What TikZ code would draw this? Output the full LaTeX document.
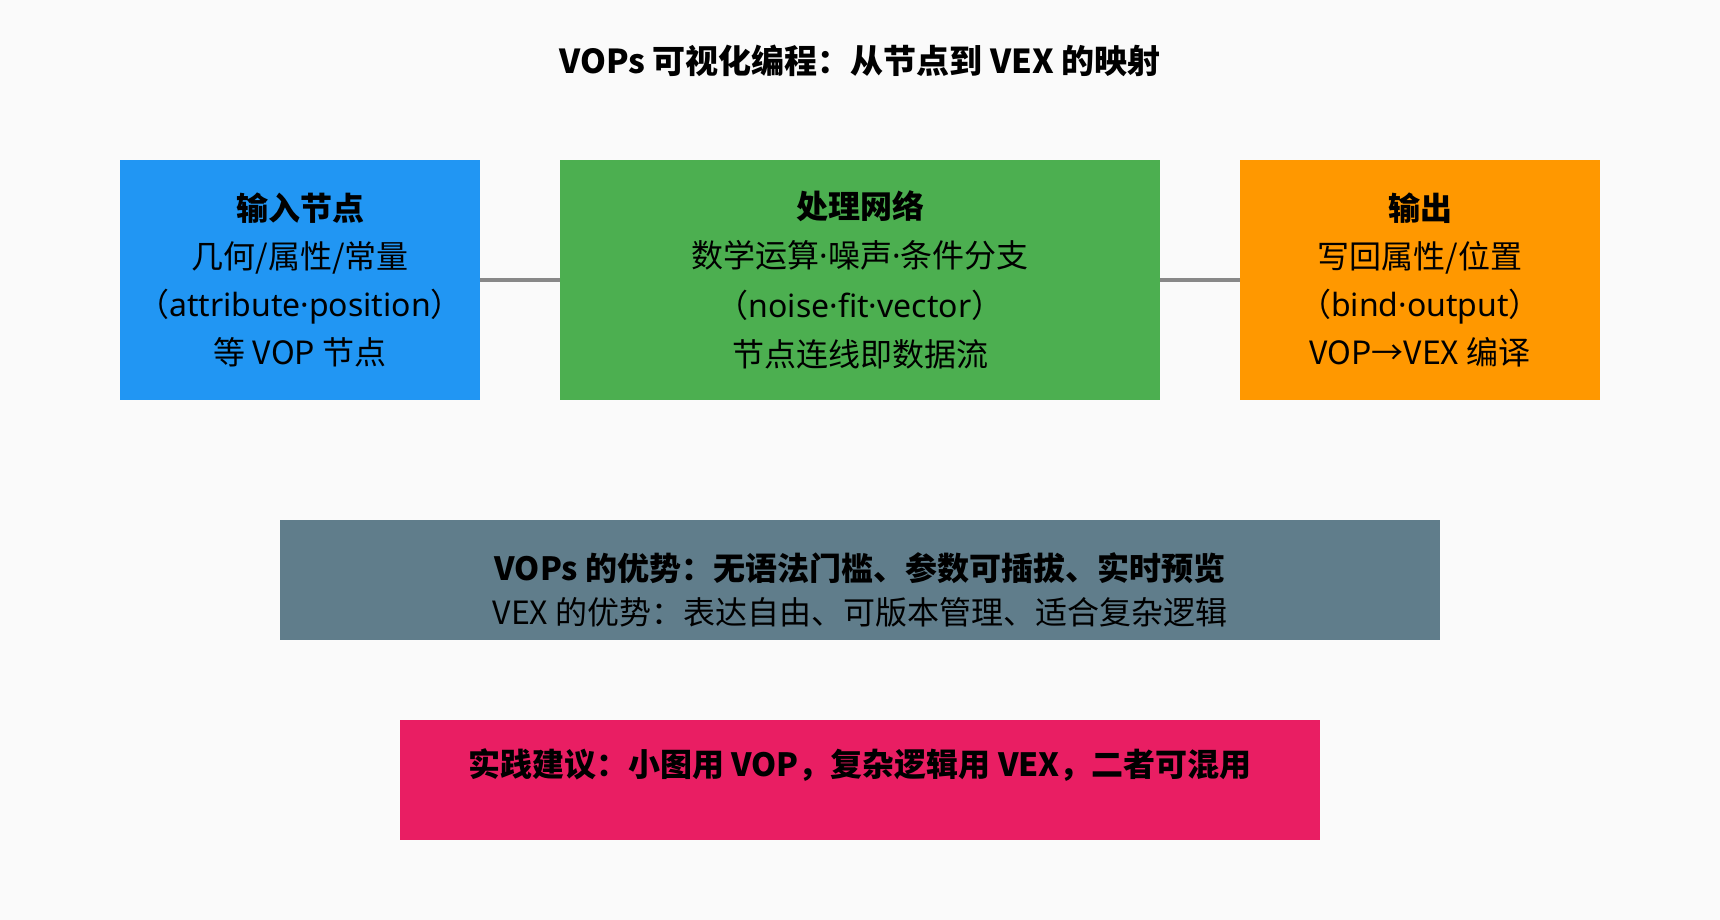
\documentclass[tikz,border=0pt]{standalone}
\usepackage{fontspec}
\setmainfont{Noto Sans CJK SC}
\newfontfamily\latinfont{Noto Sans}
\newcommand{\lat}[1]{{\latinfont #1}}
\definecolor{pagebg}{HTML}{FAFAFA}
\definecolor{inblue}{HTML}{2196F3}
\definecolor{procgreen}{HTML}{4CAF50}
\definecolor{outorange}{HTML}{FF9800}
\definecolor{prosgray}{HTML}{607D8B}
\definecolor{tippink}{HTML}{E91E63}
\definecolor{linkgray}{HTML}{888888}
\begin{document}
\begin{tikzpicture}[x=1pt,y=1pt,
    stage/.style={minimum height=240pt, inner sep=0pt, align=center,
      font=\fontsize{32}{48}\selectfont},
    band/.style={minimum height=120pt, inner sep=0pt},
    bandtext/.style={align=center, inner sep=0pt, font=\fontsize{32}{44}\selectfont},
    link/.style={draw=linkgray, line width=3.5pt}]
    \fill[pagebg] (0,0) rectangle (1720,920);
    \node[font={\fontsize{33}{40}\selectfont\bfseries}] (title) at (860,859)
        {VOPs 可视化编程：从节点到 VEX 的映射};
    % three stages
    \node[stage, fill=inblue, minimum width=360pt] (input) at (300,640)
        {\textbf{输入节点}\\几何/属性/常量\\（\lat{attribute·position}）\\等 VOP 节点};
    \node[stage, fill=procgreen, minimum width=600pt, font=\fontsize{32}{49.5}\selectfont] (proc) at (860,640)
        {\textbf{处理网络}\\数学运算\lat{·}噪声\lat{·}条件分支\\（\lat{noise·fit·vector}）\\节点连线即数据流};
    \node[stage, fill=outorange, minimum width=360pt] (output) at (1420,640)
        {\textbf{输出}\\写回属性/位置\\（\lat{bind·output}）\\VOP→VEX 编译};
    \draw[link] (input) -- (proc);
    \draw[link] (proc) -- (output);
    % notes
    \node[band, fill=prosgray, minimum width=1160pt] (pros) at (860,340) {};
    \node[bandtext] (prostext) at ([yshift=-10pt]pros.center)
        {\textbf{VOPs 的优势：无语法门槛、参数可插拔、实时预览}\\VEX 的优势：表达自由、可版本管理、适合复杂逻辑};
    \node[band, fill=tippink, minimum width=920pt] (tip) at (860,140) {};
    \node[bandtext] (tiptext) at ([yshift=15pt]tip.center)
        {\textbf{实践建议：小图用 VOP，复杂逻辑用 VEX，二者可混用}};
\end{tikzpicture}
\end{document}
